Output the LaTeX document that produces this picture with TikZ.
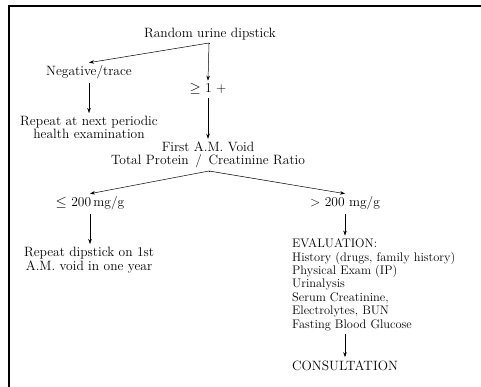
\documentclass[tikz,border=0pt]{standalone}
\usepackage{amsmath}
\usepackage{amssymb}
\usepackage{tikz}
\usetikzlibrary{arrows.meta}
\tikzset{
    txt/.style={inner sep=3pt, font=\fontsize{13.5}{13.4}\selectfont},
    block/.style={txt, align=center},
    list/.style={txt, align=left, font=\fontsize{12.4}{13.4}\selectfont},
    myarrow/.style={-{Stealth[length=5pt, width=3.5pt]}, line width=0.5pt},
    frame/.style={line width=1.5pt},
}

\begin{document}
\begin{tikzpicture}[x=1pt, y=-1pt]

    \useasboundingbox (0,0) rectangle (481,387);
    \draw[frame] (481,6) -- (9,6) -- (9,387);

    \node[txt, anchor=base] (random) at (210,38) {Random urine dipstick};
    \coordinate (rsplit) at (209,43);
    \node[txt, anchor=base] (neg) at (89,76) {Negative/trace};
    \node[txt, anchor=base] (ge1) at (208,93) {$\geq$ 1 +};

    \node[block, anchor=base] (periodic) at (89,139) {Repeat at next periodic\\health examination};
    \node[block, anchor=base] (ratio) at (208,165) {First A.M. Void\\Total Protein \,/\, Creatinine Ratio};
    \coordinate (fsplit) at (209,171);

    \node[txt, anchor=base] (low) at (90,207) {$\leq$ 200\,mg/g};
    \node[txt, anchor=base] (high) at (345,207) {> 200 mg/g};

    \node[block, anchor=base] (redo) at (89,270) {Repeat dipstick on 1st\\A.M. void in one year};
    \node[list, anchor=base west] (eval) at (289,328) {EVALUATION:\\History (drugs, family history)\\Physical Exam (IP)\\Urinalysis\\Serum Creatinine,\\Electrolytes, BUN\\Fasting Blood Glucose};
    \node[txt, anchor=base] (consult) at (345,370) {CONSULTATION};

    \draw[line width=0.5pt] (random.south -| rsplit) -- (rsplit);
    \draw[myarrow] (rsplit) -- (neg.north);
    \draw[myarrow] (rsplit) -- (ge1.north);
    \draw[myarrow] (neg.south) -- (periodic.north);
    \draw[myarrow] (ge1.south) -- (ratio.north -| ge1.south);
    \draw[line width=0.5pt] (ratio.south -| fsplit) -- (fsplit);
    \draw[myarrow] (fsplit) -- (low.north);
    \draw[myarrow] (fsplit) -- (high.north);
    \draw[myarrow] (low.south) -- (redo.north -| low.south);
    \draw[myarrow] (high.south) -- (eval.north -| high.south);
    \draw[myarrow] (eval.south -| consult.north) -- (consult.north);

\end{tikzpicture}
\end{document}
